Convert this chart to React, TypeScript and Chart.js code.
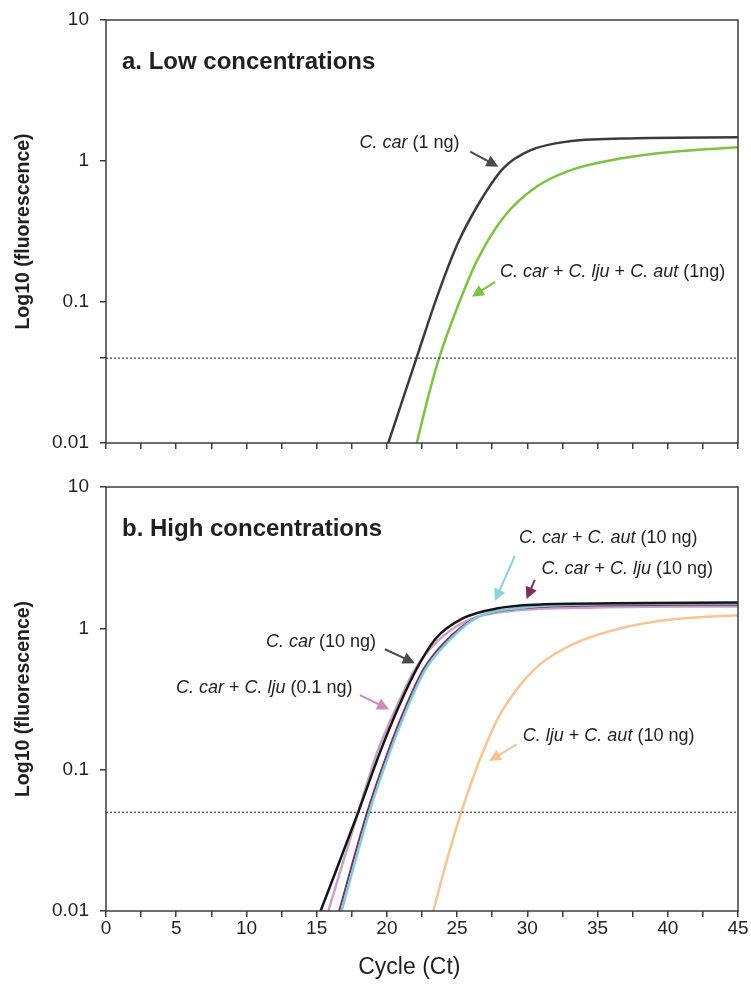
import React, { useEffect, useRef } from 'react';
import { Chart, registerables } from 'chart.js';

Chart.register(...registerables);

const FONT = '"Liberation Sans", Arial, Helvetica, sans-serif';
const TEXT = '#1f1f1f';
const AXIS = '#3d3d3d';

// ---------- Panel a: low concentrations ----------
const aCarX = [20.1, 22.2, 23.6, 25.0, 26.6, 28.3, 30.2, 33.0, 37.8, 45];
const aCarY = [0.01, 0.0427, 0.111, 0.255, 0.51, 0.891, 1.189, 1.38, 1.452, 1.472];
const aMixX = [22.13, 23.0, 23.74, 24.93, 26.4, 28.3, 30.7, 33.05, 36.6, 40.2, 45];
const aMixY = [0.01, 0.0224, 0.0407, 0.0871, 0.195, 0.398, 0.661, 0.859, 1.04, 1.159, 1.25];
const aThreshold = 0.04;

// ---------- Panel b: high concentrations ----------
const bCarX = [15.28, 17.96, 19.5, 20.9, 22.1, 23.5, 25.4, 27.8, 32.1, 45];
const bCarY = [0.01, 0.0501, 0.132, 0.288, 0.513, 0.851, 1.175, 1.38, 1.486, 1.524];
const bLju01X = [15.83, 17.96, 19.3, 20.75, 22.0, 23.5, 25.6, 28.5, 35, 45];
const bLju01Y = [0.01, 0.0501, 0.132, 0.288, 0.513, 0.794, 1.122, 1.318, 1.406, 1.429];
const bLju10X = [16.6, 18.6, 20.05, 21.4, 22.6, 24.1, 26.25, 29.5, 35, 45];
const bLju10Y = [0.01, 0.0501, 0.132, 0.288, 0.513, 0.794, 1.175, 1.38, 1.449, 1.469];
const bAut10X = [16.77, 18.75, 20.2, 21.55, 22.75, 24.3, 26.4, 29.7, 35, 45];
const bAut10Y = [0.01, 0.0501, 0.132, 0.288, 0.513, 0.794, 1.189, 1.4, 1.479, 1.5];
const bLjuAutX = [23.3, 24.3, 25.3, 26.5, 28.0, 29.5, 30.9, 33.3, 36.8, 40.4, 45];
const bLjuAutY = [0.01, 0.0234, 0.0501, 0.1096, 0.24, 0.398, 0.556, 0.776, 1.009, 1.159, 1.239];
const bThreshold = 0.05;

// ---------- Axes ----------
const xMin = 0;
const xMax = 45;
const xStep = 2.5;
const xLabelEvery = 5;
const xTitle = 'Cycle (Ct)';
const yTitle = 'Log10 (fluorescence)';
const yTickValues = [0.01, 0.1, 1, 10];
const yTickLabels = ['0.01', '0.1', '1', '10'];

type Seg = [string, boolean];
type Note = {
  segs: Seg[];
  x: number; y: number; // text anchor (data units)
  ax1: number; ay1: number; ax2: number; ay2: number; // arrow (data units)
  color: string;
};

const aNotes: Note[] = [
  { segs: [['C. car', true], [' (1 ng)', false]], x: 18.05, y: 1.34, ax1: 25.93, ay1: 1.164, ax2: 27.94, ay2: 0.912, color: '#4a4a4a' },
  { segs: [['C. car', true], [' + ', false], ['C. lju', true], [' + ', false], ['C. aut', true], [' (1ng)', false]], x: 28.06, y: 0.164, ax1: 27.71, ay1: 0.139, ax2: 26.05, ay2: 0.109, color: '#7cc243' },
];

const bNotes: Note[] = [
  { segs: [['C. car', true], [' + ', false], ['C. aut', true], [' (10 ng)', false]], x: 29.4, y: 4.33, ax1: 29.11, ay1: 3.25, ax2: 27.69, ay2: 1.56, color: '#8fd0dc' },
  { segs: [['C. car', true], [' + ', false], ['C. lju', true], [' (10 ng)', false]], x: 31.01, y: 2.62, ax1: 30.53, ay1: 2.2, ax2: 29.94, ay2: 1.61, color: '#7b2f5d' },
  { segs: [['C. car', true], [' (10 ng)', false]], x: 11.39, y: 0.794, ax1: 19.86, ay1: 0.711, ax2: 21.99, ay2: 0.566, color: '#4a4a4a' },
  { segs: [['C. car', true], [' + ', false], ['C. lju', true], [' (0.1 ng)', false]], x: 4.98, y: 0.377, ax1: 18.08, ay1: 0.337, ax2: 20.16, ay2: 0.267, color: '#c68fb8' },
  { segs: [['C. lju', true], [' + ', false], ['C. aut', true], [' (10 ng)', false]], x: 29.68, y: 0.173, ax1: 29.23, ay1: 0.151, ax2: 27.28, ay2: 0.115, color: '#f4c496' },
];

function pts(xs: number[], ys: number[]) {
  return xs.map((x, i) => ({ x, y: ys[i] }));
}

function line(label: string, xs: number[], ys: number[], color: string, width = 2.5) {
  return {
    label,
    data: pts(xs, ys),
    borderColor: color,
    backgroundColor: color,
    borderWidth: width,
    pointRadius: 0,
    cubicInterpolationMode: 'monotone' as const,
    fill: false,
  };
}

function threshold(value: number) {
  return {
    label: 'threshold',
    data: [{ x: xMin, y: value }, { x: xMax, y: value }],
    borderColor: '#222',
    borderWidth: 1,
    borderDash: [2, 2],
    pointRadius: 0,
    tension: 0,
    fill: false,
  };
}

function drawArrow(ctx: CanvasRenderingContext2D, x1: number, y1: number, x2: number, y2: number, color: string) {
  const ang = Math.atan2(y2 - y1, x2 - x1);
  const head = 12;
  const hw = 6;
  const c = Math.cos(ang);
  const s = Math.sin(ang);
  ctx.save();
  ctx.strokeStyle = color;
  ctx.fillStyle = color;
  ctx.lineWidth = 2;
  ctx.beginPath();
  ctx.moveTo(x1, y1);
  ctx.lineTo(x2 - head * 0.8 * c, y2 - head * 0.8 * s);
  ctx.stroke();
  ctx.beginPath();
  ctx.moveTo(x2, y2);
  ctx.lineTo(x2 - head * c + hw * s, y2 - head * s - hw * c);
  ctx.lineTo(x2 - head * c - hw * s, y2 - head * s + hw * c);
  ctx.closePath();
  ctx.fill();
  ctx.restore();
}

function makeOverlay(title: string, notes: Note[], showXTitle: boolean) {
  return {
    id: 'overlay',
    afterDraw(chart: any) {
      const { ctx, chartArea, scales } = chart;
      const xs = scales.x;
      const ys = scales.y;
      ctx.save();
      // frame
      ctx.strokeStyle = AXIS;
      ctx.lineWidth = 1.5;
      ctx.strokeRect(chartArea.left, chartArea.top, chartArea.right - chartArea.left, chartArea.bottom - chartArea.top);
      // panel title
      ctx.fillStyle = TEXT;
      ctx.font = `bold 24px ${FONT}`;
      ctx.textBaseline = 'middle';
      ctx.textAlign = 'left';
      ctx.fillText(title, chartArea.left + 16, chartArea.top + 42);
      // notes
      for (const n of notes) {
        let px = xs.getPixelForValue(n.x);
        const py = ys.getPixelForValue(n.y);
        for (const [t, it] of n.segs) {
          ctx.font = `${it ? 'italic ' : ''}18px ${FONT}`;
          ctx.fillStyle = TEXT;
          ctx.fillText(t, px, py);
          px += ctx.measureText(t).width;
        }
        drawArrow(
          ctx,
          xs.getPixelForValue(n.ax1), ys.getPixelForValue(n.ay1),
          xs.getPixelForValue(n.ax2), ys.getPixelForValue(n.ay2),
          n.color,
        );
      }
      if (showXTitle) {
        ctx.font = `23px ${FONT}`;
        ctx.fillStyle = TEXT;
        ctx.textAlign = 'center';
        ctx.textBaseline = 'middle';
        ctx.fillText(xTitle, chartArea.left + (chartArea.right - chartArea.left) * 0.48, chartArea.bottom + 57);
      }
      ctx.restore();
    },
  };
}

function buildConfig(opts: {
  datasets: any[];
  title: string;
  notes: Note[];
  padTop: number;
  xHeight: number;
  showXLabels: boolean;
  extraYTick?: number;
}) {
  const yVals = opts.extraYTick ? [...yTickValues, opts.extraYTick].sort((a, b) => a - b) : yTickValues;
  return {
    type: 'line' as const,
    data: { datasets: opts.datasets },
    options: {
      animation: false,
      responsive: false,
      events: [],
      layout: { padding: { top: opts.padTop, right: 13, left: 0, bottom: 0 } },
      plugins: { legend: { display: false }, tooltip: { enabled: false } },
      scales: {
        x: {
          type: 'linear',
          min: xMin,
          max: xMax,
          border: { display: false },
          grid: { drawOnChartArea: false, drawTicks: true, tickLength: 6, color: AXIS, lineWidth: 1.5 },
          ticks: {
            stepSize: xStep,
            autoSkip: false,
            maxRotation: 0,
            padding: 0,
            color: TEXT,
            font: { family: FONT, size: 19 },
            callback: (v: number) => (opts.showXLabels && Math.abs(v % xLabelEvery) < 1e-9 ? String(v) : ''),
          },
          afterFit: (s: any) => {
            s.height = opts.xHeight;
            s.paddingLeft = 0;
            s.paddingRight = 0;
          },
        },
        y: {
          type: 'logarithmic',
          min: 0.01,
          max: 10,
          border: { display: false },
          grid: { drawOnChartArea: false, drawTicks: true, tickLength: 6, color: AXIS, lineWidth: 1.5 },
          afterBuildTicks: (s: any) => { s.ticks = yVals.map((v) => ({ value: v })); },
          ticks: {
            padding: 11,
            color: TEXT,
            font: { family: FONT, size: 19 },
            callback: (v: number) => {
              const i = yTickValues.findIndex((t) => Math.abs(t - v) < 1e-9);
              return i >= 0 ? yTickLabels[i] : '';
            },
          },
          title: { display: true, text: yTitle, color: TEXT, font: { family: FONT, size: 19.5, weight: 'bold', lineHeight: 1.2 }, padding: { top: 12, bottom: 0 } },
          afterFit: (s: any) => {
            s.width = 106;
            s.paddingTop = 0;
            s.paddingBottom = 0;
          },
        },
      },
    },
    plugins: [makeOverlay(opts.title, opts.notes, opts.showXLabels)],
  };
}

function ChartCanvas({ config, width, height, top }: { config: any; width: number; height: number; top: number }) {
  const ref = useRef<HTMLCanvasElement | null>(null);
  useEffect(() => {
    if (!ref.current) return;
    const chart = new Chart(ref.current, config);
    return () => chart.destroy();
  }, [config]);
  return (
    <canvas
      ref={ref}
      width={width}
      height={height}
      style={{ position: 'absolute', left: 0, top, width, height, display: 'block' }}
    />
  );
}

const topConfig = buildConfig({
  datasets: [
    threshold(aThreshold),
    line('C. car (1 ng)', aCarX, aCarY, '#3b3b3b'),
    line('C. car + C. lju + C. aut (1ng)', aMixX, aMixY, '#7cc243'),
  ],
  title: 'a. Low concentrations',
  notes: aNotes,
  padTop: 20,
  xHeight: 17,
  showXLabels: false,
  extraYTick: aThreshold,
});

const bottomConfig = buildConfig({
  datasets: [
    threshold(bThreshold),
    line('C. car (10 ng)', bCarX, bCarY, '#151515'),
    line('C. car + C. aut (10 ng)', bAut10X, bAut10Y, '#7fcbdc'),
    line('C. car + C. lju (10 ng)', bLju10X, bLju10Y, '#7b2f5d', 2),
    line('C. car + C. lju (0.1 ng)', bLju01X, bLju01Y, '#c9a3c5'),
    line('C. lju + C. aut (10 ng)', bLjuAutX, bLjuAutY, '#f6c595'),
  ],
  title: 'b. High concentrations',
  notes: bNotes,
  padTop: 27,
  xHeight: 79,
  showXLabels: true,
});

export default function App() {
  return (
    <div style={{ position: 'absolute', left: 0, top: 0, width: 751, height: 990, background: '#fff' }}>
      <ChartCanvas config={topConfig} width={751} height={460} top={0} />
      <ChartCanvas config={bottomConfig} width={751} height={530} top={460} />
    </div>
  );
}
